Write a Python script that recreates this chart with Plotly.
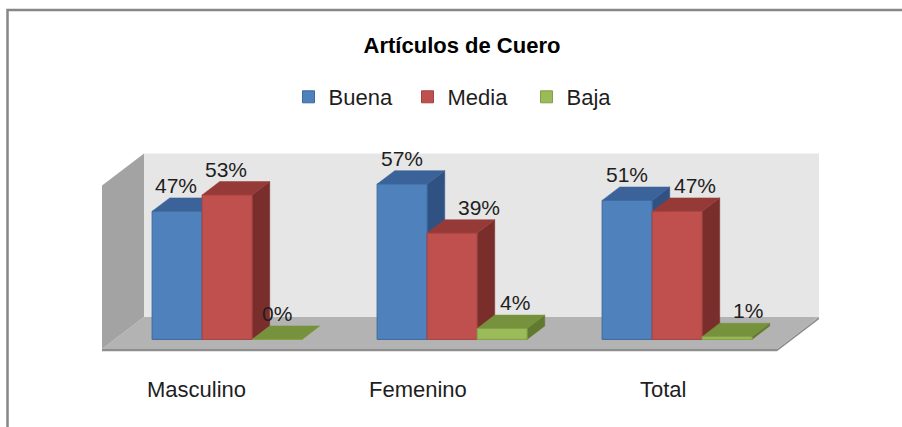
import plotly.graph_objects as go

# ---------------- data ----------------
categories = ["Masculino", "Femenino", "Total"]
series_names = ["Buena", "Media", "Baja"]
buena = [47, 57, 51]
media = [53, 39, 47]
baja = [0, 4, 1]
value_labels_buena = ["47%", "57%", "51%"]
value_labels_media = ["53%", "39%", "47%"]
value_labels_baja = ["0%", "4%", "1%"]
axis_max = 60
title_text = "Artículos de Cuero"

# ---------------- style / geometry ----------------
W, H = 902, 427
ML, MR, MT, MB = 96, 66, 140, 67
PX_PER_CAT = 225.0
PX_PER_PCT = 2.725
DEPTH_PX_X, DEPTH_PX_Y = 42.0, 32.0
DX = DEPTH_PX_X / PX_PER_CAT
DY = DEPTH_PX_Y / PX_PER_PCT
D_FRONT, D_BACK = 0.30, 0.72
BAR_W = 50.0 / PX_PER_CAT
SERIES_OFFSETS = [-BAR_W, 0.0, BAR_W]

front_cols = ["#4F81BD", "#C0504D", "#9BBB59"]
edge_cols = ["#3B6AA0", "#A34341", "#82A046"]
top_cols = ["#3B6399", "#963A38", "#76923C"]
side_cols = ["#2F5283", "#7A2E2C", "#617A2F"]
label_nudge_px = [[-1, 0, 0], [-1, 27, 18], [0, 13, 21]]
cat_label_shift = [-0.078, -0.096, -0.007]

FONT = "Liberation Sans, Arial, sans-serif"

x0_px = 102.0          # px of category -0.5 on floor front
floor_front_py = 349.0
x_lo = -0.5 + (ML - x0_px) / PX_PER_CAT
x_hi = -0.5 + (W - MR - x0_px) / PX_PER_CAT
y_lo = (floor_front_py - (H - MB)) / PX_PER_PCT
y_hi = (floor_front_py - MT) / PX_PER_PCT


def P(xc, v, d):
    return xc + d * DX, v + d * DY


def path(points):
    s = ""
    for i, (xc, v, d) in enumerate(points):
        x, y = P(xc, v, d)
        s += ("M" if i == 0 else "L") + f"{x},{y} "
    return s + "Z"


def face(points, color, lw=0.5):
    return dict(type="path", xref="x", yref="y", layer="below", path=path(points),
                fillcolor=color, line=dict(color=color, width=lw))


fig = go.Figure()
shapes = []

# outer chart frame
shapes.append(dict(type="rect", xref="paper", yref="paper",
                   x0=(7.5 - ML) / (W - ML - MR), x1=(W + 20 - ML) / (W - ML - MR),
                   y0=(H - MB - (H + 20)) / (H - MB - MT), y1=(H - MB - 10) / (H - MB - MT),
                   line=dict(color="#878787", width=2.5), fillcolor="rgba(0,0,0,0)", layer="below"))

# floor thickness, floor, left wall, back wall
t = 2.2 / PX_PER_PCT
shapes.append(face([(-0.5, 0, 0), (2.5, 0, 0), (2.5, 0, 1), (2.5, -t, 1), (2.5, -t, 0), (-0.5, -t, 0)], "#8E8E8E", 0))
shapes.append(face([(-0.5, 0, 0), (2.5, 0, 0), (2.5, 0, 1), (-0.5, 0, 1)], "#B3B3B3", 0))
shapes.append(face([(-0.5, 0, 0), (-0.5, 0, 1), (-0.5, axis_max, 1), (-0.5, axis_max, 0)], "#A3A3A3", 0))
shapes.append(face([(-0.5, 0, 1), (2.5, 0, 1), (2.5, axis_max, 1), (-0.5, axis_max, 1)], "#E6E6E6", 0))

all_series = [buena, media, baja]
all_labels = [value_labels_buena, value_labels_media, value_labels_baja]

# side and top faces (shapes below traces; front faces are bar traces on top)
for ci in range(len(categories)):
    for si in range(3):
        v = all_series[si][ci]
        xa = ci + SERIES_OFFSETS[si] - BAR_W / 2
        xb = ci + SERIES_OFFSETS[si] + BAR_W / 2
        if v > 0:
            shapes.append(face([(xb, 0, D_FRONT), (xb, v, D_FRONT), (xb, v, D_BACK), (xb, 0, D_BACK)],
                               side_cols[si]))
        shapes.append(face([(xa, v, D_FRONT), (xb, v, D_FRONT), (xb, v, D_BACK), (xa, v, D_BACK)],
                           top_cols[si]))

# front faces as bars
for si in range(3):
    fig.add_trace(go.Bar(
        name=series_names[si],
        x=[ci + SERIES_OFFSETS[si] + D_FRONT * DX for ci in range(len(categories))],
        y=all_series[si],
        base=[D_FRONT * DY] * len(categories),
        width=BAR_W,
        marker=dict(color=front_cols[si], line=dict(color=edge_cols[si], width=1)),
        hoverinfo="skip",
    ))

annotations = []
for si in range(3):
    for ci in range(len(categories)):
        v = all_series[si][ci]
        x = ci + SERIES_OFFSETS[si] + D_FRONT * DX + label_nudge_px[si][ci] / PX_PER_CAT
        y = v + D_BACK * DY - 1.0 / PX_PER_PCT
        annotations.append(dict(x=x, y=y, xref="x", yref="y", text=all_labels[si][ci],
                                showarrow=False, xanchor="center", yanchor="bottom",
                                font=dict(family=FONT, size=21, color="#1E1E1E")))

for ci, cat in enumerate(categories):
    annotations.append(dict(x=ci + cat_label_shift[ci], y=(H - MB - 389) / (H - MB - MT),
                            xref="x", yref="paper", text=cat, showarrow=False,
                            xanchor="center", yanchor="middle",
                            font=dict(family=FONT, size=22, color="#1E1E1E")))

fig.update_layout(
    width=W, height=H,
    margin=dict(l=ML, r=MR, t=MT, b=MB),
    paper_bgcolor="white", plot_bgcolor="white",
    barmode="overlay",
    title=dict(text="<b>" + title_text + "</b>", x=462 / W, xanchor="center",
               y=1 - 45 / H, yanchor="middle",
               font=dict(family=FONT, size=22, color="black")),
    legend=dict(orientation="h", x=(467 - ML) / (W - ML - MR), xanchor="center",
                y=(H - MB - 97) / (H - MB - MT), yanchor="middle",
                entrywidth=74, entrywidthmode="pixels",
                font=dict(family=FONT, size=22, color="#1E1E1E"),
                bgcolor="rgba(0,0,0,0)", itemclick=False, itemdoubleclick=False),
    xaxis=dict(range=[x_lo, x_hi], visible=False, showgrid=False, zeroline=False, fixedrange=True),
    yaxis=dict(range=[y_lo, y_hi], visible=False, showgrid=False, zeroline=False, fixedrange=True),
    shapes=shapes,
    annotations=annotations,
    showlegend=True,
)

fig.write_html("out.html", config={"displayModeBar": False},
               post_script="document.body.style.margin='0px';document.body.style.overflow='hidden';")
